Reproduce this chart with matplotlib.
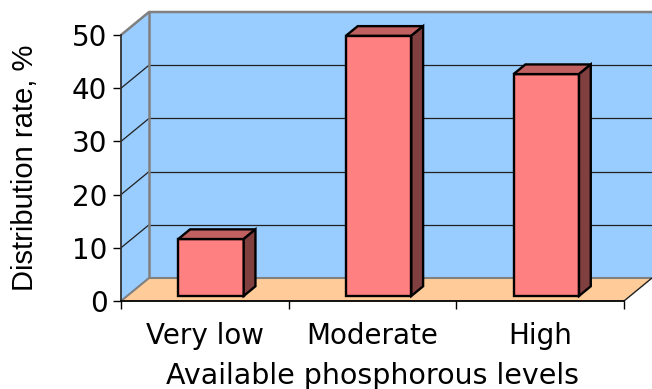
import matplotlib.pyplot as plt
from matplotlib.patches import Polygon

categories = ["Very low", "Moderate", "High"]
rates = [10.7, 48.9, 41.7]
yticks = [0, 10, 20, 30, 40, 50]

W, H = 652, 389
fig = plt.figure(figsize=(W / 100, H / 100), dpi=100)
ax = fig.add_axes([121 / W, (H - 301) / H, (624 - 121) / W, (301 - 35) / H])
ax.set_xlim(-0.5, 2.5)
ax.set_ylim(0, 50)
ax.patch.set_visible(False)

# perspective offset of the back wall (data units)
DX = 28 / ((624 - 121) / 3)
DY = 23 / ((301 - 35) / 50)

wall = "#99CCFF"
floor = "#FFCC99"
frame = "#808080"
x0, x1 = -0.5, 2.5
ymax = 50


def poly(pts, fc, ec="none", lw=0, z=1):
    p = Polygon(pts, closed=True, facecolor=fc, edgecolor=ec, linewidth=lw,
                joinstyle="miter", clip_on=False, zorder=z)
    ax.add_patch(p)


def seg(xs, ys, c, lw, z=2):
    ax.plot(xs, ys, color=c, lw=lw, clip_on=False, zorder=z,
            solid_capstyle="butt")


# walls and floor
poly([(x0 + DX, DY), (x1 + DX, DY), (x1 + DX, ymax + DY), (x0 + DX, ymax + DY)], wall)
poly([(x0, 0), (x0 + DX, DY), (x0 + DX, ymax + DY), (x0, ymax)], wall)
poly([(x0, 0), (x1, 0), (x1 + DX, DY), (x0 + DX, DY)], floor)

# gridlines on back and side walls
for v in yticks[1:-1]:
    seg([x0 + DX, x1 + DX], [v + DY, v + DY], "#202020", 0.9)
    seg([x0, x0 + DX], [v, v + DY], "#202020", 0.9)

# wall frame
seg([x0, x0 + DX, x1 + DX], [ymax, ymax + DY, ymax + DY], frame, 1.8)
seg([x0 + DX, x0 + DX], [DY, ymax + DY], frame, 1.8)
seg([x0, x0 + DX, x1 + DX], [0, DY, DY], frame, 1.5)
seg([x1, x1 + DX], [0, DY], "#202020", 1.0)

# bars
bw = 0.39
f0 = 0.22
bd = 0.42
for i, v in enumerate(rates):
    bx0 = i - bw / 2 + f0 * DX
    bx1 = bx0 + bw
    base = f0 * DY
    top = v + f0 * DY
    ddx, ddy = bd * DX, bd * DY
    poly([(bx0, base), (bx1, base), (bx1, top), (bx0, top)], "#FF8080", "black", 1.7, 5)
    poly([(bx0, top), (bx1, top), (bx1 + ddx, top + ddy), (bx0 + ddx, top + ddy)],
         "#C06060", "black", 1.7, 5)
    poly([(bx1, base), (bx1 + ddx, base + ddy), (bx1 + ddx, top + ddy), (bx1, top)],
         "#804040", "black", 1.7, 5)

# axes
for s in ["top", "right"]:
    ax.spines[s].set_visible(False)
ax.spines["left"].set_color("#303030")
ax.spines["left"].set_linewidth(1.3)
ax.spines["bottom"].set_linewidth(1.3)
ax.spines["left"].set_zorder(3)
ax.spines["bottom"].set_zorder(3)

ax.set_yticks(yticks)
ax.tick_params(axis="y", length=5.8, width=1, pad=4, labelsize=20)
ax.set_xticks(range(len(categories)))
ax.set_xticklabels(categories)
ax.set_xticks([-0.5, 0.5, 1.5, 2.5], minor=True)
ax.tick_params(axis="x", which="major", length=0, pad=15, labelsize=20)
ax.tick_params(axis="x", which="minor", length=5.8, width=1)

ax.set_xlabel("Available phosphorous levels", fontsize=20.5, labelpad=9)
ax.set_ylabel("Distribution rate, %", fontsize=21, family="Liberation Sans",
              labelpad=24)

fig.savefig("out.png", dpi=100)
